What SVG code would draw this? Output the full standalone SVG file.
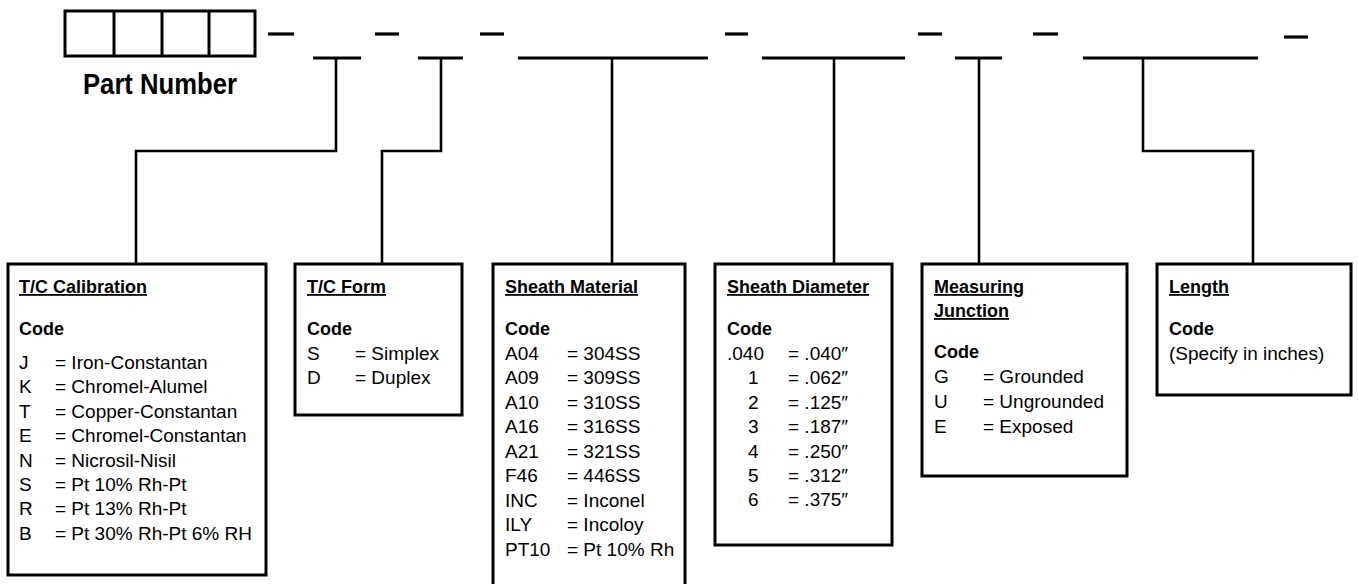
<svg xmlns="http://www.w3.org/2000/svg" width="1358" height="584" viewBox="0 0 1358 584">
<style>
.box{fill:#fff;stroke:#000;stroke-width:3}
.ln{fill:none;stroke:#000;stroke-width:2.6}
.ul{fill:none;stroke:#000;stroke-width:3.2}
text{font-family:"Liberation Sans",Arial,sans-serif;fill:#000}
.t{font-size:18px;font-weight:bold;text-decoration:underline}
.c{font-size:18px;font-weight:bold}
.r{font-size:19px}
.pn{font-size:29px;font-weight:bold}
</style>
<rect width="1358" height="584" fill="#fff"/>
<g id="part-number">
<rect class="box" x="65" y="11" width="190" height="45"/>
<line class="box" x1="114" y1="11" x2="114" y2="56"/>
<line class="box" x1="162" y1="11" x2="162" y2="56"/>
<line class="box" x1="209" y1="11" x2="209" y2="56"/>
<text class="pn" x="83" y="94" textLength="154" lengthAdjust="spacingAndGlyphs">Part Number</text>
</g>
<g id="fields">
<line class="ul" x1="268" y1="34" x2="294" y2="34"/>
<line class="ul" x1="375" y1="34" x2="399" y2="34"/>
<line class="ul" x1="480" y1="34" x2="504" y2="34"/>
<line class="ul" x1="725" y1="34" x2="748" y2="34"/>
<line class="ul" x1="918" y1="34" x2="942" y2="34"/>
<line class="ul" x1="1033" y1="34" x2="1058" y2="34"/>
<line class="ul" x1="1284" y1="37" x2="1308" y2="37"/>
<line class="ul" x1="313" y1="58" x2="361" y2="58"/>
<line class="ul" x1="418" y1="58" x2="463" y2="58"/>
<line class="ul" x1="518" y1="58" x2="708" y2="58"/>
<line class="ul" x1="762" y1="58" x2="905" y2="58"/>
<line class="ul" x1="955" y1="58" x2="1002" y2="58"/>
<line class="ul" x1="1083" y1="58" x2="1258" y2="58"/>
</g>
<g id="connectors">
<path class="ln" d="M336 58V151H136V264"/>
<path class="ln" d="M441 58V151H382V264"/>
<path class="ln" d="M612 58V264"/>
<path class="ln" d="M834 58V264"/>
<path class="ln" d="M979 58V264"/>
<path class="ln" d="M1143 58V151H1253V264"/>
</g>
<g id="tc-calibration">
<rect class="box" x="8" y="264" width="258" height="311"/>
<text class="t" x="19" y="293">T/C Calibration</text>
<text class="c" x="19" y="335">Code</text>
<g class="r">
<text x="19" y="369">J</text><text x="55" y="369">= Iron-Constantan</text>
<text x="19" y="393">K</text><text x="55" y="393">= Chromel-Alumel</text>
<text x="19" y="418">T</text><text x="55" y="418">= Copper-Constantan</text>
<text x="19" y="442">E</text><text x="55" y="442">= Chromel-Constantan</text>
<text x="19" y="467">N</text><text x="55" y="467">= Nicrosil-Nisil</text>
<text x="19" y="491">S</text><text x="55" y="491">= Pt 10% Rh-Pt</text>
<text x="19" y="515">R</text><text x="55" y="515">= Pt 13% Rh-Pt</text>
<text x="19" y="540">B</text><text x="55" y="540">= Pt 30% Rh-Pt 6% RH</text>
</g>
</g>
<g id="tc-form">
<rect class="box" x="295" y="264" width="167" height="151"/>
<text class="t" x="307" y="293">T/C Form</text>
<text class="c" x="307" y="335">Code</text>
<g class="r">
<text x="307" y="360">S</text><text x="355" y="360">= Simplex</text>
<text x="307" y="384">D</text><text x="355" y="384">= Duplex</text>
</g>
</g>
<g id="sheath-material">
<rect class="box" x="493" y="264" width="192" height="330"/>
<text class="t" x="505" y="293">Sheath Material</text>
<text class="c" x="505" y="335">Code</text>
<g class="r">
<text x="505" y="360">A04</text><text x="567" y="360">= 304SS</text>
<text x="505" y="384">A09</text><text x="567" y="384">= 309SS</text>
<text x="505" y="409">A10</text><text x="567" y="409">= 310SS</text>
<text x="505" y="433">A16</text><text x="567" y="433">= 316SS</text>
<text x="505" y="458">A21</text><text x="567" y="458">= 321SS</text>
<text x="505" y="482">F46</text><text x="567" y="482">= 446SS</text>
<text x="505" y="507">INC</text><text x="567" y="507">= Inconel</text>
<text x="505" y="531">ILY</text><text x="567" y="531">= Incoloy</text>
<text x="505" y="556">PT10</text><text x="567" y="556">= Pt 10% Rh</text>
</g>
</g>
<g id="sheath-diameter">
<rect class="box" x="715" y="264" width="177" height="281"/>
<text class="t" x="727" y="293">Sheath Diameter</text>
<text class="c" x="727" y="335">Code</text>
<g class="r">
<text x="727" y="360">.040</text><text x="788" y="360">= .040″</text>
<text x="748" y="384">1</text><text x="788" y="384">= .062″</text>
<text x="748" y="409">2</text><text x="788" y="409">= .125″</text>
<text x="748" y="433">3</text><text x="788" y="433">= .187″</text>
<text x="748" y="458">4</text><text x="788" y="458">= .250″</text>
<text x="748" y="482">5</text><text x="788" y="482">= .312″</text>
<text x="748" y="506">6</text><text x="788" y="506">= .375″</text>
</g>
</g>
<g id="measuring-junction">
<rect class="box" x="922" y="264" width="205" height="212"/>
<text class="t" x="934" y="293">Measuring</text>
<text class="t" x="934" y="317">Junction</text>
<text class="c" x="934" y="358">Code</text>
<g class="r">
<text x="934" y="383">G</text><text x="983" y="383">= Grounded</text>
<text x="934" y="408">U</text><text x="983" y="408">= Ungrounded</text>
<text x="934" y="433">E</text><text x="983" y="433">= Exposed</text>
</g>
</g>
<g id="length">
<rect class="box" x="1157" y="264" width="194" height="131"/>
<text class="t" x="1169" y="293">Length</text>
<text class="c" x="1169" y="335">Code</text>
<text class="r" x="1169" y="360">(Specify in inches)</text>
</g>
</svg>
